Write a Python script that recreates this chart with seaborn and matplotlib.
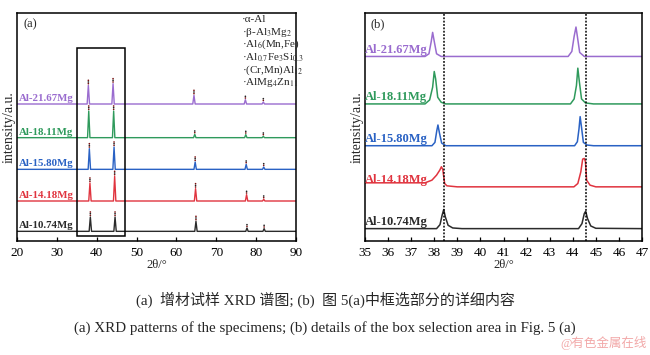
import numpy as np
import pandas as pd
import matplotlib
matplotlib.use("Agg")
import matplotlib.pyplot as plt
from matplotlib.patches import Rectangle
import seaborn as sns

# ── Data ──────────────────────────────────────────────────────────
SAMPLES = ["Al-10.74Mg", "Al-14.18Mg", "Al-15.80Mg", "Al-18.11Mg", "Al-21.67Mg"]
COLORS = ["#2b2b2b", "#e0343f", "#2a62c4", "#2f9a5c", "#9a6ccf"]

# panel (a): stacking baselines and main peaks (2θ, height) per sample
OFFSET_A = [29, 120, 215, 310, 411]
PEAK_POS_A = [
    [38.40, 44.60, 64.9, 77.7, 82.0],
    [38.30, 44.50, 64.8, 77.6, 81.9],
    [38.15, 44.35, 64.7, 77.5, 81.9],
    [38.00, 44.25, 64.6, 77.4, 81.8],
    [37.90, 44.10, 64.4, 77.3, 81.8],
]
PEAK_H_A = [
    [43, 43, 30, 10, 8],
    [54, 74, 37, 19, 5],
    [62, 67, 22, 15, 7],
    [80, 80, 10, 9, 4],
    [56, 61, 26, 13, 6],
]

# panel (b): zoomed profiles 35–47°
OFFSET_B = [37, 162, 285, 410, 552]
X_B = [
    [35, 38.10, 38.25, 38.34, 38.41, 38.48, 38.60, 38.80, 39.2, 44.25, 44.40, 44.50, 44.56, 44.64, 44.78, 45.0, 47],
    [35, 37.60, 37.90, 38.10, 38.24, 38.31, 38.37, 38.45, 38.55, 39.0, 44.05, 44.22, 44.35, 44.43, 44.50, 44.55, 44.60, 44.75, 45.0, 47],
    [35, 37.90, 38.03, 38.11, 38.16, 38.22, 38.32, 38.50, 44.08, 44.20, 44.27, 44.32, 44.38, 44.46, 44.62, 44.9, 47],
    [35, 37.60, 37.80, 37.93, 38.00, 38.06, 38.15, 38.30, 38.5, 43.90, 44.06, 44.16, 44.22, 44.28, 44.38, 44.55, 44.9, 47],
    [35, 37.60, 37.77, 37.87, 37.93, 38.00, 38.10, 38.30, 43.80, 43.96, 44.06, 44.14, 44.20, 44.30, 44.50, 47],
]
Y_B = [
    [0, 0, 12, 40, 57, 35, 10, 2, 0, 0, 15, 45, 52, 30, 8, 1, 0],
    [12, 12, 20, 35, 50, 60, 52, 10, 3, 0, 0, 10, 45, 83, 85, 75, 20, 5, 0, 0],
    [0, 0, 10, 45, 62, 40, 8, 0, 0, 12, 50, 87, 55, 10, 2, 0, 0],
    [0, 0, 12, 50, 97, 75, 20, 5, 0, 0, 15, 55, 107, 70, 15, 3, 0, 0],
    [0, 0, 8, 45, 72, 45, 8, 0, 0, 15, 60, 88, 60, 12, 0, 0],
]
REF_LINES_B = [38.41, 44.58]

PHASES = [r"α-Al", r"β-Al$_3$Mg$_2$", r"Al$_6$(Mn,Fe)",
          r"Al$_{0.7}$Fe$_3$Si$_{0.3}$", r"(Cr,Mn)Al$_{12}$", r"AlMg$_4$Zn$_{11}$"]

CAPTION_ZH = "(a)  增材试样 XRD 谱图; (b)  图 5(a)中框选部分的详细内容"
CAPTION_EN = "(a) XRD patterns of the specimens; (b) details of the box selection area in Fig. 5 (a)"

# ── Style ─────────────────────────────────────────────────────────
sns.set_theme(style="ticks")
plt.rcParams.update({
    "font.family": ["Liberation Serif", "Noto Sans CJK SC"],
    "mathtext.fontset": "stix",
    "axes.linewidth": 1.1,
    "axes.edgecolor": "black",
    "xtick.direction": "in",
    "xtick.color": "black",
})


def build_a():
    rows = []
    for s, off, pos, hts in zip(SAMPLES, OFFSET_A, PEAK_POS_A, PEAK_H_A):
        xs, ys = [20.0], [0.0]
        for p, h in zip(pos, hts):
            xs += [p - 0.3, p, p + 0.3]
            ys += [0, h, 0]
        xs.append(90.0)
        ys.append(0.0)
        for x, y in zip(xs, ys):
            rows.append((s, x, y + off))
    return pd.DataFrame(rows, columns=["sample", "two_theta", "intensity"])


def build_b():
    rows = []
    for s, off, xs, ys in zip(SAMPLES, OFFSET_B, X_B, Y_B):
        for x, y in zip(xs, ys):
            rows.append((s, x, y + off))
    return pd.DataFrame(rows, columns=["sample", "two_theta", "intensity"])


fig = plt.figure(figsize=(6.5, 3.55), dpi=100)
ax_a = fig.add_axes([17 / 650, 1 - 241 / 355, 279 / 650, 228 / 355])
ax_b = fig.add_axes([365 / 650, 1 - 241 / 355, 277 / 650, 228 / 355])
pal = dict(zip(SAMPLES, COLORS))

# ── (a) full pattern ─────────────────────────────────────────────
df_a = build_a()
sns.lineplot(data=df_a, x="two_theta", y="intensity", hue="sample",
             palette=pal, estimator=None, sort=False, legend=False,
             linewidth=1.0, ax=ax_a)
ax_a.set_xlim(20, 90)
ax_a.set_ylim(0, 684)
ax_a.set_xticks(range(20, 91, 10))
ax_a.set_yticks([])

# phase marks above the peaks
for off, pos, hts in zip(OFFSET_A, PEAK_POS_A, PEAK_H_A):
    for p, h in zip(pos, hts):
        n = 3 if h > 20 else 2
        ys = [off + h + 5 + 5 * k for k in range(n)]
        ax_a.scatter([p] * n, ys, s=1.4, color=["#7a1010", "#222222", "#7a1010"][:n],
                     linewidths=0, zorder=4)

for s, off, c in zip(SAMPLES, OFFSET_A, COLORS):
    ax_a.text(20.4, off + 3, s, color=c, fontsize=7.8, fontweight="bold",
              ha="left", va="bottom")

ax_a.add_patch(Rectangle((35, 16), 12, 564, fill=False, edgecolor="black",
                         linewidth=1.1, zorder=5))
ax_a.text(0.025, 0.975, "(a)", transform=ax_a.transAxes, fontsize=9,
          ha="left", va="top")
for i, ph in enumerate(PHASES):
    ax_a.text(0.805, 0.972 - i * 0.0555, "·" + ph, transform=ax_a.transAxes,
              fontsize=8, ha="left", va="center", clip_on=False)

# ── (b) detail 35–47° ────────────────────────────────────────────
df_b = build_b()
sns.lineplot(data=df_b, x="two_theta", y="intensity", hue="sample",
             palette=pal, estimator=None, sort=False, legend=False,
             linewidth=1.1, ax=ax_b)
for xr in REF_LINES_B:
    ax_b.axvline(xr, color="black", linestyle=(0, (1.2, 1.0)), linewidth=1.1)
ax_b.set_xlim(35, 47)
ax_b.set_ylim(0, 682)
ax_b.set_xticks(range(35, 48))
ax_b.set_yticks([])
for s, off, c in zip(SAMPLES, OFFSET_B, COLORS):
    ax_b.text(35.0, off + 2, s, color=c, fontsize=9, fontweight="bold",
              ha="left", va="bottom")
ax_b.text(0.02, 0.975, "(b)", transform=ax_b.transAxes, fontsize=9,
          ha="left", va="top")

for ax in (ax_a, ax_b):
    ax.tick_params(axis="x", length=3, width=0.9, labelsize=9.5, pad=4)
    ax.set_xlabel("2θ/°", fontsize=9, labelpad=0)
    ax.set_ylabel("intensity/a.u.", fontsize=10, labelpad=1)

# ── captions ─────────────────────────────────────────────────────
fig.text(0.5, 1 - 300 / 355, CAPTION_ZH, ha="center", va="center", fontsize=10.8)
fig.text(0.5, 1 - 328 / 355, CAPTION_EN, ha="center", va="center", fontsize=10.8)
fig.text(0.995, 1 - 343 / 355, "@有色金属在线", ha="right", va="center",
         fontsize=9, color="#f2a8a8")

fig.savefig("out.png", dpi=100)
